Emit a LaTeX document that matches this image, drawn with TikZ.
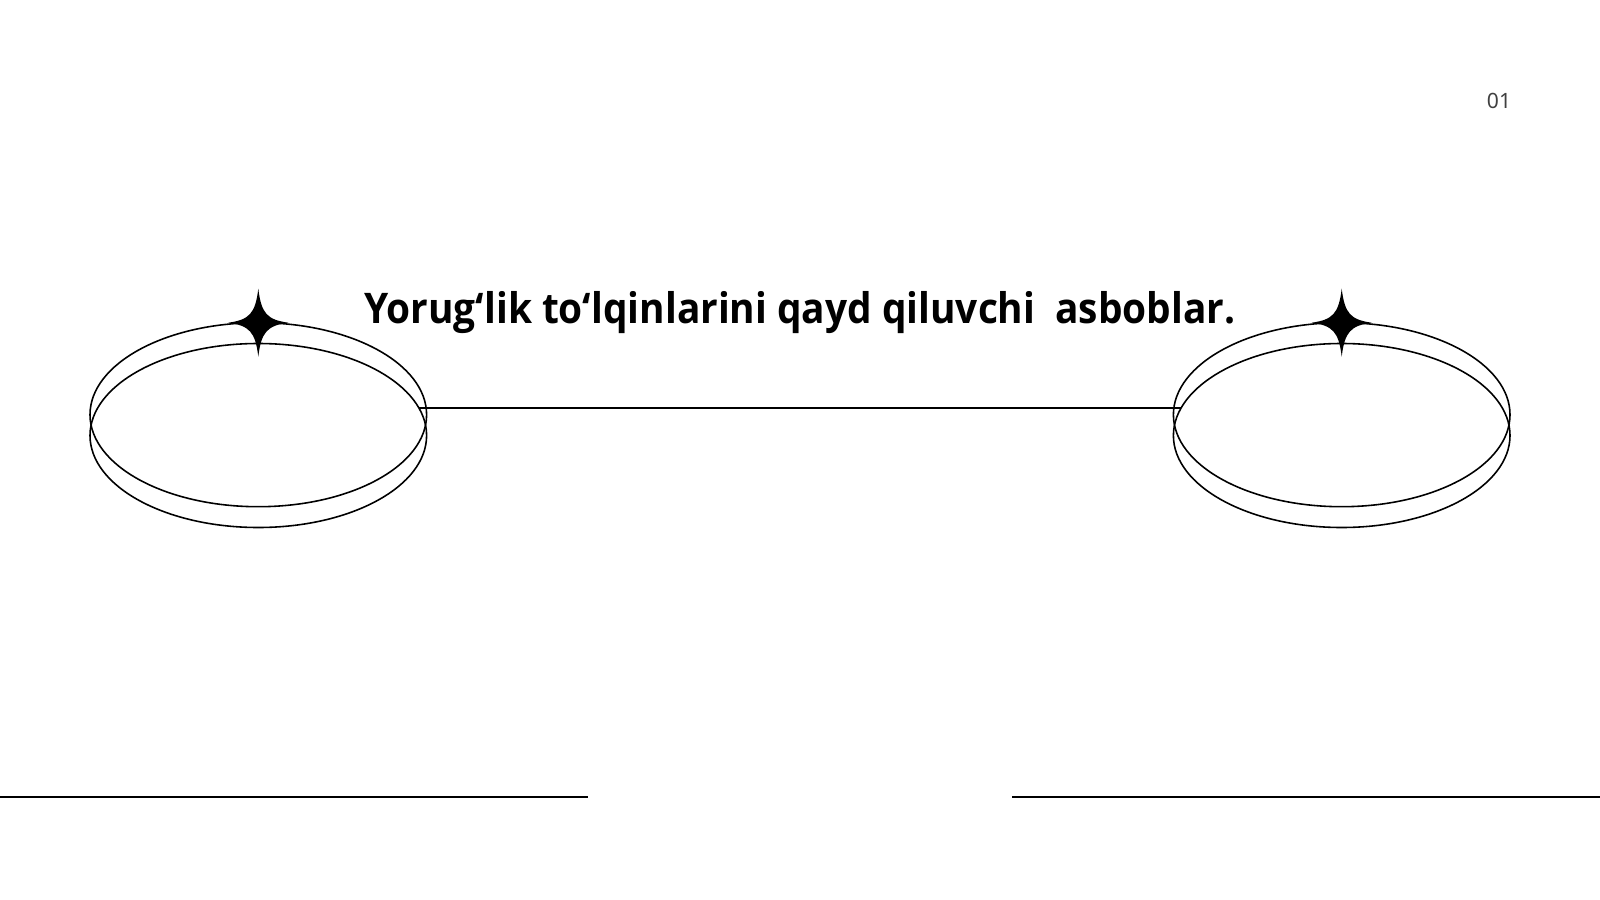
\documentclass[tikz,border=0pt]{standalone}
\usepackage{fontspec}
\setmainfont{Noto Sans}
\newfontfamily\titlefont{Open Sans}[FakeStretch=0.92]
\begin{document}
\begin{tikzpicture}[x=.01cm,y=-.01cm,line width=.45pt]
\useasboundingbox (0,0) rectangle (1600,900);
\node [anchor=base,font=\titlefont\bfseries\fontsize{12}{14}\selectfont] (title) at (800,323.3) {Yorug‘lik to‘lqinlarini qayd qiluvchi\ \ asboblar.};
\node [anchor=base,text=black!75,font=\fontsize{6}{7}\selectfont] (pagenum) at (1499,108.3) {01};

\draw (258.3,414.7) ellipse [x radius=168.3,y radius=92];
\draw (258.3,435.5) ellipse [x radius=168.3,y radius=92];
\begin{scope}[shift={(258.3,322.7)}]
\fill (0,-34) .. controls (3,-9) and (9,-3) .. (30,0) .. controls (9,3) and (3,9) .. (0,34)
  .. controls (-3,9) and (-9,3) .. (-30,0) .. controls (-9,-3) and (-3,-9) .. cycle;
\end{scope}

\draw (1341.7,414.7) ellipse [x radius=168.3,y radius=92];
\draw (1341.7,435.5) ellipse [x radius=168.3,y radius=92];
\begin{scope}[shift={(1341.7,322.7)}]
\fill (0,-34) .. controls (3,-9) and (9,-3) .. (30,0) .. controls (9,3) and (3,9) .. (0,34)
  .. controls (-3,9) and (-9,3) .. (-30,0) .. controls (-9,-3) and (-3,-9) .. cycle;
\end{scope}

\coordinate (lring) at (418.7,408);
\coordinate (rring) at (1181.3,408);
\draw (lring) -- (rring);

\coordinate (lbase) at (0,797);
\coordinate (lbaseend) at (588,797);
\coordinate (rbase) at (1012,797);
\coordinate (rbaseend) at (1600,797);
\draw [line width=.6pt] (lbase) -- (lbaseend);
\draw [line width=.6pt] (rbase) -- (rbaseend);
\end{tikzpicture}
\end{document}
